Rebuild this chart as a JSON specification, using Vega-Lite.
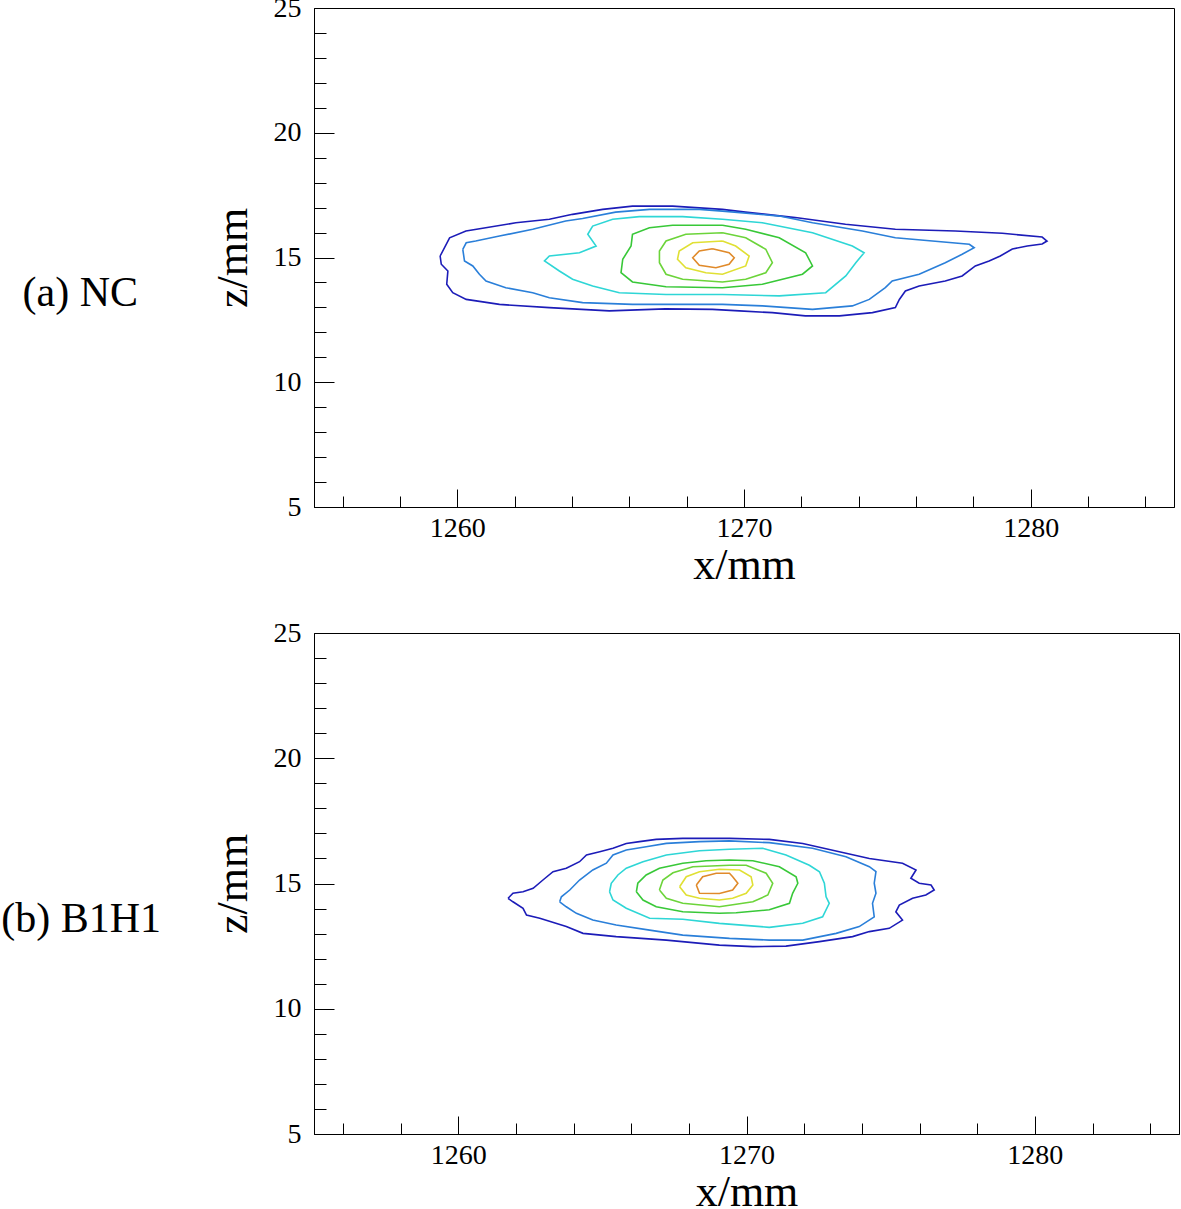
{
  "$schema": "https://vega.github.io/schema/vega-lite/v6.json",
  "background": "white",
  "padding": {"left": 0, "top": -7, "right": 0, "bottom": 0},
  "spacing": 30,
  "config": {
    "view": {"stroke": "black", "strokeWidth": 1},
    "axis": {"domainColor": "black", "domainWidth": 1, "tickColor": "black", "tickWidth": 1, "labelFont": "Liberation Serif", "titleFont": "Liberation Serif", "labelColor": "black", "titleColor": "black", "labelFontSize": 28, "titleFontSize": 44, "titleFontWeight": "normal", "grid": false, "labelFlush": false, "labelOverlap": false, "format": "d"},
    "title": {"font": "Liberation Serif", "fontSize": 42, "fontWeight": "normal", "color": "black"}
  },
  "datasets": {
    "nc": [
      {"l":1,"i":0,"x":1259.40,"z":15.06},{"l":1,"i":1,"x":1259.73,"z":15.79},{"l":1,"i":2,"x":1260.30,"z":16.06},{"l":1,"i":3,"x":1260.99,"z":16.19},{"l":1,"i":4,"x":1262.04,"z":16.39},{"l":1,"i":5,"x":1263.21,"z":16.53},{"l":1,"i":6,"x":1264.02,"z":16.73},{"l":1,"i":7,"x":1265.07,"z":16.93},{"l":1,"i":8,"x":1266.11,"z":17.06},{"l":1,"i":9,"x":1267.51,"z":17.06},{"l":1,"i":10,"x":1269.25,"z":16.93},{"l":1,"i":11,"x":1270.05,"z":16.82},{"l":1,"i":12,"x":1271.79,"z":16.60},{"l":1,"i":13,"x":1273.54,"z":16.33},{"l":1,"i":14,"x":1275.28,"z":16.13},{"l":1,"i":15,"x":1277.37,"z":16.06},{"l":1,"i":16,"x":1279.01,"z":15.97},{"l":1,"i":17,"x":1280.40,"z":15.82},{"l":1,"i":18,"x":1280.57,"z":15.66},{"l":1,"i":19,"x":1280.40,"z":15.54},{"l":1,"i":20,"x":1279.88,"z":15.46},{"l":1,"i":21,"x":1279.36,"z":15.34},{"l":1,"i":22,"x":1278.94,"z":15.06},{"l":1,"i":23,"x":1278.55,"z":14.86},{"l":1,"i":24,"x":1278.07,"z":14.66},{"l":1,"i":25,"x":1277.61,"z":14.26},{"l":1,"i":26,"x":1277.02,"z":14.06},{"l":1,"i":27,"x":1276.11,"z":13.86},{"l":1,"i":28,"x":1275.63,"z":13.66},{"l":1,"i":29,"x":1275.42,"z":13.32},{"l":1,"i":30,"x":1275.28,"z":12.99},{"l":1,"i":31,"x":1274.48,"z":12.79},{"l":1,"i":32,"x":1273.33,"z":12.66},{"l":1,"i":33,"x":1272.14,"z":12.66},{"l":1,"i":34,"x":1270.99,"z":12.79},{"l":1,"i":35,"x":1269.84,"z":12.86},{"l":1,"i":36,"x":1268.90,"z":12.92},{"l":1,"i":37,"x":1267.26,"z":12.94},{"l":1,"i":38,"x":1265.30,"z":12.86},{"l":1,"i":39,"x":1263.21,"z":12.99},{"l":1,"i":40,"x":1261.47,"z":13.12},{"l":1,"i":41,"x":1260.31,"z":13.32},{"l":1,"i":42,"x":1259.84,"z":13.59},{"l":1,"i":43,"x":1259.63,"z":13.93},{"l":1,"i":44,"x":1259.67,"z":14.46},{"l":1,"i":45,"x":1259.44,"z":14.73},{"l":1,"i":46,"x":1259.40,"z":15.06},
      {"l":2,"i":0,"x":1260.19,"z":15.33},{"l":2,"i":1,"x":1260.31,"z":15.59},{"l":2,"i":2,"x":1260.64,"z":15.66},{"l":2,"i":3,"x":1261.47,"z":15.86},{"l":2,"i":4,"x":1262.63,"z":16.13},{"l":2,"i":5,"x":1263.78,"z":16.46},{"l":2,"i":6,"x":1264.37,"z":16.56},{"l":2,"i":7,"x":1265.52,"z":16.82},{"l":2,"i":8,"x":1266.71,"z":16.93},{"l":2,"i":9,"x":1268.45,"z":16.93},{"l":2,"i":10,"x":1269.25,"z":16.86},{"l":2,"i":11,"x":1271.24,"z":16.66},{"l":2,"i":12,"x":1272.39,"z":16.39},{"l":2,"i":13,"x":1274.13,"z":16.06},{"l":2,"i":14,"x":1275.28,"z":15.79},{"l":2,"i":15,"x":1277.86,"z":15.53},{"l":2,"i":16,"x":1278.03,"z":15.39},{"l":2,"i":17,"x":1277.61,"z":15.13},{"l":2,"i":18,"x":1277.02,"z":14.79},{"l":2,"i":19,"x":1276.11,"z":14.33},{"l":2,"i":20,"x":1275.17,"z":14.06},{"l":2,"i":21,"x":1274.93,"z":13.79},{"l":2,"i":22,"x":1274.37,"z":13.32},{"l":2,"i":23,"x":1273.78,"z":13.06},{"l":2,"i":24,"x":1272.39,"z":12.92},{"l":2,"i":25,"x":1270.64,"z":13.06},{"l":2,"i":26,"x":1269.25,"z":13.12},{"l":2,"i":27,"x":1266.11,"z":13.12},{"l":2,"i":28,"x":1264.37,"z":13.19},{"l":2,"i":29,"x":1263.21,"z":13.39},{"l":2,"i":30,"x":1262.63,"z":13.59},{"l":2,"i":31,"x":1261.69,"z":13.79},{"l":2,"i":32,"x":1261.00,"z":14.06},{"l":2,"i":33,"x":1260.77,"z":14.33},{"l":2,"i":34,"x":1260.54,"z":14.66},{"l":2,"i":35,"x":1260.25,"z":14.86},{"l":2,"i":36,"x":1260.19,"z":15.33},
      {"l":3,"i":0,"x":1269.25,"z":16.53},{"l":3,"i":1,"x":1267.86,"z":16.64},{"l":3,"i":2,"x":1266.35,"z":16.64},{"l":3,"i":3,"x":1265.42,"z":16.53},{"l":3,"i":4,"x":1264.72,"z":16.26},{"l":3,"i":5,"x":1264.55,"z":15.93},{"l":3,"i":6,"x":1264.84,"z":15.46},{"l":3,"i":7,"x":1264.26,"z":15.19},{"l":3,"i":8,"x":1263.21,"z":15.06},{"l":3,"i":9,"x":1263.04,"z":14.86},{"l":3,"i":10,"x":1263.56,"z":14.46},{"l":3,"i":11,"x":1264.02,"z":14.13},{"l":3,"i":12,"x":1264.72,"z":13.86},{"l":3,"i":13,"x":1265.65,"z":13.59},{"l":3,"i":14,"x":1267.28,"z":13.52},{"l":3,"i":15,"x":1269.25,"z":13.52},{"l":3,"i":16,"x":1271.23,"z":13.46},{"l":3,"i":17,"x":1272.85,"z":13.59},{"l":3,"i":18,"x":1273.55,"z":14.26},{"l":3,"i":19,"x":1273.90,"z":14.79},{"l":3,"i":20,"x":1274.19,"z":15.19},{"l":3,"i":21,"x":1273.78,"z":15.46},{"l":3,"i":22,"x":1272.39,"z":15.99},{"l":3,"i":23,"x":1270.64,"z":16.39},{"l":3,"i":24,"x":1269.25,"z":16.53},
      {"l":4,"i":0,"x":1269.25,"z":16.29},{"l":4,"i":1,"x":1267.51,"z":16.29},{"l":4,"i":2,"x":1266.70,"z":16.19},{"l":4,"i":3,"x":1266.11,"z":15.93},{"l":4,"i":4,"x":1266.06,"z":15.46},{"l":4,"i":5,"x":1265.77,"z":14.93},{"l":4,"i":6,"x":1265.71,"z":14.39},{"l":4,"i":7,"x":1266.11,"z":14.02},{"l":4,"i":8,"x":1267.28,"z":13.83},{"l":4,"i":9,"x":1269.25,"z":13.79},{"l":4,"i":10,"x":1270.64,"z":13.93},{"l":4,"i":11,"x":1272.04,"z":14.33},{"l":4,"i":12,"x":1272.39,"z":14.66},{"l":4,"i":13,"x":1272.15,"z":15.19},{"l":4,"i":14,"x":1271.23,"z":15.79},{"l":4,"i":15,"x":1270.06,"z":16.13},{"l":4,"i":16,"x":1269.25,"z":16.29},
      {"l":5,"i":0,"x":1269.25,"z":15.99},{"l":5,"i":1,"x":1267.97,"z":15.93},{"l":5,"i":2,"x":1267.28,"z":15.66},{"l":5,"i":3,"x":1267.05,"z":15.26},{"l":5,"i":4,"x":1267.05,"z":14.79},{"l":5,"i":5,"x":1267.28,"z":14.33},{"l":5,"i":6,"x":1267.86,"z":14.13},{"l":5,"i":7,"x":1269.25,"z":14.02},{"l":5,"i":8,"x":1270.06,"z":14.13},{"l":5,"i":9,"x":1270.76,"z":14.39},{"l":5,"i":10,"x":1270.99,"z":14.79},{"l":5,"i":11,"x":1270.76,"z":15.33},{"l":5,"i":12,"x":1270.06,"z":15.79},{"l":5,"i":13,"x":1269.25,"z":15.99},
      {"l":6,"i":0,"x":1269.25,"z":15.66},{"l":6,"i":1,"x":1268.21,"z":15.59},{"l":6,"i":2,"x":1267.74,"z":15.26},{"l":6,"i":3,"x":1267.68,"z":14.93},{"l":6,"i":4,"x":1267.97,"z":14.59},{"l":6,"i":5,"x":1268.67,"z":14.39},{"l":6,"i":6,"x":1269.25,"z":14.33},{"l":6,"i":7,"x":1270.06,"z":14.66},{"l":6,"i":8,"x":1270.18,"z":15.06},{"l":6,"i":9,"x":1269.71,"z":15.46},{"l":6,"i":10,"x":1269.25,"z":15.66},
      {"l":7,"i":0,"x":1268.90,"z":15.35},{"l":7,"i":1,"x":1268.44,"z":15.26},{"l":7,"i":2,"x":1268.21,"z":14.99},{"l":7,"i":3,"x":1268.44,"z":14.69},{"l":7,"i":4,"x":1269.02,"z":14.59},{"l":7,"i":5,"x":1269.48,"z":14.73},{"l":7,"i":6,"x":1269.66,"z":14.99},{"l":7,"i":7,"x":1269.48,"z":15.19},{"l":7,"i":8,"x":1268.90,"z":15.35}
    ],
    "b1h1": [
      {"l":1,"i":0,"x":1261.73,"z":14.41},{"l":1,"i":1,"x":1261.90,"z":14.61},{"l":1,"i":2,"x":1262.25,"z":14.67},{"l":1,"i":3,"x":1262.60,"z":14.81},{"l":1,"i":4,"x":1262.94,"z":15.14},{"l":1,"i":5,"x":1263.29,"z":15.47},{"l":1,"i":6,"x":1263.75,"z":15.61},{"l":1,"i":7,"x":1264.21,"z":15.87},{"l":1,"i":8,"x":1264.45,"z":16.14},{"l":1,"i":9,"x":1264.91,"z":16.27},{"l":1,"i":10,"x":1265.37,"z":16.41},{"l":1,"i":11,"x":1265.83,"z":16.60},{"l":1,"i":12,"x":1266.29,"z":16.67},{"l":1,"i":13,"x":1266.87,"z":16.76},{"l":1,"i":14,"x":1267.79,"z":16.80},{"l":1,"i":15,"x":1269.41,"z":16.80},{"l":1,"i":16,"x":1270.79,"z":16.76},{"l":1,"i":17,"x":1271.95,"z":16.60},{"l":1,"i":18,"x":1273.45,"z":16.21},{"l":1,"i":19,"x":1274.26,"z":16.00},{"l":1,"i":20,"x":1275.41,"z":15.81},{"l":1,"i":21,"x":1275.88,"z":15.54},{"l":1,"i":22,"x":1275.70,"z":15.21},{"l":1,"i":23,"x":1275.99,"z":15.01},{"l":1,"i":24,"x":1276.40,"z":14.94},{"l":1,"i":25,"x":1276.51,"z":14.74},{"l":1,"i":26,"x":1276.22,"z":14.54},{"l":1,"i":27,"x":1275.76,"z":14.41},{"l":1,"i":28,"x":1275.30,"z":14.14},{"l":1,"i":29,"x":1275.18,"z":13.87},{"l":1,"i":30,"x":1275.41,"z":13.54},{"l":1,"i":31,"x":1274.95,"z":13.21},{"l":1,"i":32,"x":1274.26,"z":13.08},{"l":1,"i":33,"x":1273.68,"z":12.88},{"l":1,"i":34,"x":1272.53,"z":12.68},{"l":1,"i":35,"x":1271.37,"z":12.50},{"l":1,"i":36,"x":1270.22,"z":12.48},{"l":1,"i":37,"x":1269.06,"z":12.54},{"l":1,"i":38,"x":1267.22,"z":12.74},{"l":1,"i":39,"x":1265.48,"z":12.88},{"l":1,"i":40,"x":1264.33,"z":13.01},{"l":1,"i":41,"x":1263.75,"z":13.28},{"l":1,"i":42,"x":1262.83,"z":13.61},{"l":1,"i":43,"x":1262.37,"z":13.74},{"l":1,"i":44,"x":1262.25,"z":14.01},{"l":1,"i":45,"x":1261.90,"z":14.27},{"l":1,"i":46,"x":1261.73,"z":14.41},
      {"l":2,"i":0,"x":1263.52,"z":14.27},{"l":2,"i":1,"x":1263.58,"z":14.47},{"l":2,"i":2,"x":1263.87,"z":14.74},{"l":2,"i":3,"x":1264.21,"z":15.14},{"l":2,"i":4,"x":1264.67,"z":15.54},{"l":2,"i":5,"x":1265.14,"z":15.81},{"l":2,"i":6,"x":1265.37,"z":16.14},{"l":2,"i":7,"x":1265.83,"z":16.34},{"l":2,"i":8,"x":1266.52,"z":16.47},{"l":2,"i":9,"x":1267.22,"z":16.60},{"l":2,"i":10,"x":1268.37,"z":16.67},{"l":2,"i":11,"x":1269.41,"z":16.70},{"l":2,"i":12,"x":1270.79,"z":16.63},{"l":2,"i":13,"x":1272.29,"z":16.41},{"l":2,"i":14,"x":1273.45,"z":16.07},{"l":2,"i":15,"x":1274.26,"z":15.67},{"l":2,"i":16,"x":1274.49,"z":15.47},{"l":2,"i":17,"x":1274.43,"z":15.01},{"l":2,"i":18,"x":1274.49,"z":14.61},{"l":2,"i":19,"x":1274.37,"z":14.21},{"l":2,"i":20,"x":1274.43,"z":13.67},{"l":2,"i":21,"x":1273.91,"z":13.28},{"l":2,"i":22,"x":1273.11,"z":13.01},{"l":2,"i":23,"x":1271.95,"z":12.74},{"l":2,"i":24,"x":1270.79,"z":12.74},{"l":2,"i":25,"x":1269.41,"z":12.81},{"l":2,"i":26,"x":1267.79,"z":12.94},{"l":2,"i":27,"x":1266.64,"z":13.14},{"l":2,"i":28,"x":1265.48,"z":13.34},{"l":2,"i":29,"x":1264.67,"z":13.54},{"l":2,"i":30,"x":1264.10,"z":13.81},{"l":2,"i":31,"x":1263.75,"z":14.07},{"l":2,"i":32,"x":1263.52,"z":14.27},
      {"l":3,"i":0,"x":1265.25,"z":14.67},{"l":3,"i":1,"x":1265.31,"z":15.01},{"l":3,"i":2,"x":1265.54,"z":15.34},{"l":3,"i":3,"x":1265.83,"z":15.61},{"l":3,"i":4,"x":1266.41,"z":15.87},{"l":3,"i":5,"x":1267.22,"z":16.14},{"l":3,"i":6,"x":1268.37,"z":16.31},{"l":3,"i":7,"x":1269.41,"z":16.37},{"l":3,"i":8,"x":1270.56,"z":16.41},{"l":3,"i":9,"x":1271.37,"z":16.14},{"l":3,"i":10,"x":1272.18,"z":15.73},{"l":3,"i":11,"x":1272.53,"z":15.47},{"l":3,"i":12,"x":1272.70,"z":15.01},{"l":3,"i":13,"x":1272.76,"z":14.47},{"l":3,"i":14,"x":1272.87,"z":14.21},{"l":3,"i":15,"x":1272.64,"z":13.67},{"l":3,"i":16,"x":1271.95,"z":13.41},{"l":3,"i":17,"x":1270.79,"z":13.25},{"l":3,"i":18,"x":1269.06,"z":13.41},{"l":3,"i":19,"x":1267.79,"z":13.57},{"l":3,"i":20,"x":1266.64,"z":13.61},{"l":3,"i":21,"x":1265.83,"z":14.01},{"l":3,"i":22,"x":1265.37,"z":14.34},{"l":3,"i":23,"x":1265.25,"z":14.67},
      {"l":4,"i":0,"x":1266.18,"z":14.67},{"l":4,"i":1,"x":1266.23,"z":15.01},{"l":4,"i":2,"x":1266.52,"z":15.34},{"l":4,"i":3,"x":1266.98,"z":15.61},{"l":4,"i":4,"x":1267.79,"z":15.81},{"l":4,"i":5,"x":1268.60,"z":15.91},{"l":4,"i":6,"x":1269.41,"z":15.94},{"l":4,"i":7,"x":1270.22,"z":15.91},{"l":4,"i":8,"x":1271.14,"z":15.67},{"l":4,"i":9,"x":1271.72,"z":15.27},{"l":4,"i":10,"x":1271.78,"z":15.01},{"l":4,"i":11,"x":1271.60,"z":14.61},{"l":4,"i":12,"x":1271.49,"z":14.21},{"l":4,"i":13,"x":1270.79,"z":13.95},{"l":4,"i":14,"x":1269.64,"z":13.83},{"l":4,"i":15,"x":1269.06,"z":13.81},{"l":4,"i":16,"x":1267.79,"z":13.87},{"l":4,"i":17,"x":1266.87,"z":14.07},{"l":4,"i":18,"x":1266.41,"z":14.34},{"l":4,"i":19,"x":1266.18,"z":14.67},
      {"l":5,"i":0,"x":1266.98,"z":14.74},{"l":5,"i":1,"x":1267.10,"z":15.14},{"l":5,"i":2,"x":1267.45,"z":15.43},{"l":5,"i":3,"x":1268.14,"z":15.67},{"l":5,"i":4,"x":1269.41,"z":15.73},{"l":5,"i":5,"x":1269.99,"z":15.73},{"l":5,"i":6,"x":1270.68,"z":15.41},{"l":5,"i":7,"x":1270.91,"z":15.01},{"l":5,"i":8,"x":1270.74,"z":14.54},{"l":5,"i":9,"x":1270.22,"z":14.27},{"l":5,"i":10,"x":1269.06,"z":14.07},{"l":5,"i":11,"x":1267.79,"z":14.21},{"l":5,"i":12,"x":1267.22,"z":14.41},{"l":5,"i":13,"x":1266.98,"z":14.74},
      {"l":6,"i":0,"x":1267.68,"z":14.87},{"l":6,"i":1,"x":1267.91,"z":15.27},{"l":6,"i":2,"x":1268.37,"z":15.47},{"l":6,"i":3,"x":1269.06,"z":15.57},{"l":6,"i":4,"x":1269.76,"z":15.54},{"l":6,"i":5,"x":1270.16,"z":15.27},{"l":6,"i":6,"x":1270.22,"z":14.94},{"l":6,"i":7,"x":1269.99,"z":14.61},{"l":6,"i":8,"x":1269.52,"z":14.41},{"l":6,"i":9,"x":1269.06,"z":14.34},{"l":6,"i":10,"x":1268.37,"z":14.41},{"l":6,"i":11,"x":1267.91,"z":14.54},{"l":6,"i":12,"x":1267.68,"z":14.87},
      {"l":7,"i":0,"x":1268.26,"z":14.94},{"l":7,"i":1,"x":1268.48,"z":15.27},{"l":7,"i":2,"x":1268.95,"z":15.41},{"l":7,"i":3,"x":1269.41,"z":15.41},{"l":7,"i":4,"x":1269.52,"z":15.27},{"l":7,"i":5,"x":1269.70,"z":15.01},{"l":7,"i":6,"x":1269.52,"z":14.74},{"l":7,"i":7,"x":1269.06,"z":14.60},{"l":7,"i":8,"x":1268.37,"z":14.61},{"l":7,"i":9,"x":1268.26,"z":14.94}
    ]
  },
  "vconcat": [
    {
      "width": 860,
      "height": 499,
      "title": {"text": "(a) NC", "orient": "left", "angle": 0, "align": "left", "baseline": "middle", "anchor": "middle", "dy": 35, "offset": 73},
      "data": {"name": "nc"},
      "mark": {"type": "line", "strokeWidth": 1.6},
      "encoding": {
        "x": {"field": "x", "type": "quantitative", "scale": {"domain": [1255, 1285], "nice": false, "zero": false},
          "axis": {"title": "x/mm", "values": [1256,1258,1260,1262,1264,1266,1268,1270,1272,1274,1276,1278,1280,1282,1284], "labelExpr": "datum.value % 10 === 0 ? datum.label : ''", "tickSize": {"condition": {"test": "datum.value % 10 === 0", "value": -18}, "value": -11}, "labelPadding": 25, "titlePadding": -6}},
        "y": {"field": "z", "type": "quantitative", "scale": {"domain": [5, 25], "nice": false, "zero": false},
          "axis": {"title": "z/mm", "values": [5,6,7,8,9,10,11,12,13,14,15,16,17,18,19,20,21,22,23,24,25], "labelExpr": "datum.value % 5 === 0 ? datum.label : ''", "tickSize": {"condition": {"test": "datum.value % 5 === 0", "value": -20}, "value": -12}, "labelPadding": 33, "titlePadding": 18}},
        "color": {"field": "l", "type": "ordinal", "scale": {"domain": [1,2,3,4,5,6,7], "range": ["#1c1cb8","#2a7fd9","#2ed6d6","#38c838","#6cd43a","#e0e034","#e08a2a"]}, "legend": null},
        "detail": {"field": "l"},
        "order": {"field": "i", "type": "quantitative"}
      }
    },
    {
      "width": 865,
      "height": 501,
      "title": {"text": "(b) B1H1", "orient": "left", "angle": 0, "align": "left", "baseline": "middle", "anchor": "middle", "dy": 35, "offset": 50},
      "data": {"name": "b1h1"},
      "mark": {"type": "line", "strokeWidth": 1.6},
      "encoding": {
        "x": {"field": "x", "type": "quantitative", "scale": {"domain": [1255, 1285], "nice": false, "zero": false},
          "axis": {"title": "x/mm", "values": [1256,1258,1260,1262,1264,1266,1268,1270,1272,1274,1276,1278,1280,1282,1284], "labelExpr": "datum.value % 10 === 0 ? datum.label : ''", "tickSize": {"condition": {"test": "datum.value % 10 === 0", "value": -18}, "value": -11}, "labelPadding": 25, "titlePadding": -6}},
        "y": {"field": "z", "type": "quantitative", "scale": {"domain": [5, 25], "nice": false, "zero": false},
          "axis": {"title": "z/mm", "values": [5,6,7,8,9,10,11,12,13,14,15,16,17,18,19,20,21,22,23,24,25], "labelExpr": "datum.value % 5 === 0 ? datum.label : ''", "tickSize": {"condition": {"test": "datum.value % 5 === 0", "value": -20}, "value": -12}, "labelPadding": 33, "titlePadding": 18}},
        "color": {"field": "l", "type": "ordinal", "scale": {"domain": [1,2,3,4,5,6,7], "range": ["#1c1cb8","#2a7fd9","#2ed6d6","#38c838","#6cd43a","#e0e034","#e08a2a"]}, "legend": null},
        "detail": {"field": "l"},
        "order": {"field": "i", "type": "quantitative"}
      }
    }
  ]
}
